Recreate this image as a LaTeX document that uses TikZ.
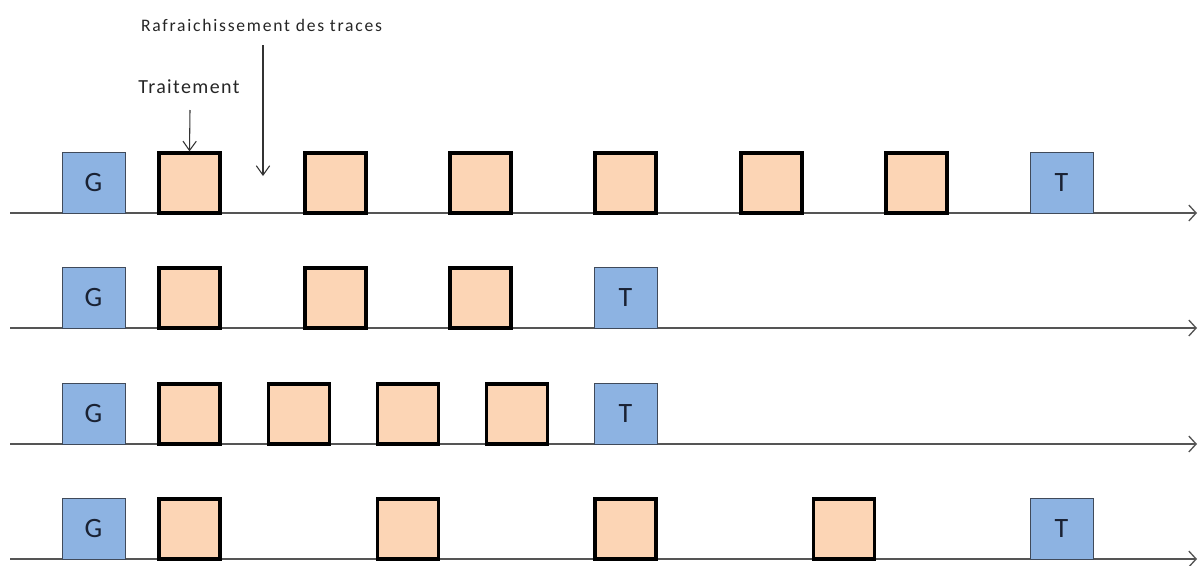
\documentclass[tikz,border=0pt]{standalone}
\usepackage{fontspec}
\setmainfont{Carlito}
\usetikzlibrary{arrows.meta}
\definecolor{gfill}{HTML}{8DB3E2}
\definecolor{gdraw}{HTML}{404A5A}
\definecolor{ofill}{HTML}{FCD5B5}
\definecolor{linegray}{HTML}{555555}
\definecolor{txt}{HTML}{1A2233}
\tikzset{
  gbox/.style={draw=gdraw, fill=gfill, line width=0.6pt, minimum width=47.25pt, minimum height=45.75pt, inner sep=0pt, font=\fontsize{21}{21}\selectfont, text=txt},
  obox/.style={draw=black, fill=ofill, line width=2.4pt, minimum width=45.75pt, minimum height=45pt, inner sep=0pt},
  timeline/.style={draw=linegray, line width=1.4pt, -{Straight Barb[length=5.5pt,width=12pt,line width=1pt]}},
  pointer/.style={draw=black!80, line width=0.8pt, -{Straight Barb[length=7pt,width=10pt]}},
  label/.style={inner sep=0pt, text=black!85}
}
\begin{document}
\begin{tikzpicture}[x=0.75pt,y=-0.75pt]
\useasboundingbox (0,0) rectangle (1198,565);
% timelines
\foreach \r/\y in {1/213,2/328,3/444,4/559}{
  \coordinate (L\r s) at (10,\y);
  \coordinate (L\r e) at (1197,\y);
  \draw[timeline] (L\r s) -- (L\r e);
  \node[gbox] (g\r) at (93.5,\y-30.5) {G};
}
% row 1
\foreach \x [count=\i] in {189.5,335.5,480.5,625.5,771.5,916.5}
  \node[obox] (o1\i) at (\x,183) {};
\node[gbox] (t1) at (1061.5,182.5) {T};
% row 2
\foreach \x [count=\i] in {189.5,335.5,480.5}
  \node[obox] (o2\i) at (\x,298) {};
\node[gbox] (t2) at (625.5,297.5) {T};
% row 3
\foreach \x [count=\i] in {189.5,299,408,517}
  \node[obox] (o3\i) at (\x,414) {};
\node[gbox] (t3) at (625.5,413.5) {T};
% row 4
\foreach \x [count=\i] in {189.5,408,625.5,844}
  \node[obox] (o4\i) at (\x,529) {};
\node[gbox] (t4) at (1061.5,528.5) {T};
% labels
\node[label, font=\fontsize{13.2}{13.2}\selectfont\addfontfeature{LetterSpace=10}] (raf) at (261.5,25) {Rafraichissement des traces};
\node[label, font=\fontsize{15}{15}\selectfont\addfontfeature{LetterSpace=7}] (trt) at (189,87) {Traitement};
\coordinate (rafs) at (263,45);
\coordinate (rafe) at (263,176);
\draw[pointer] (rafs) -- (rafe);
\coordinate (trts) at (190,110);
\draw[pointer] (trts) -- (o11.north);
\end{tikzpicture}
\end{document}
